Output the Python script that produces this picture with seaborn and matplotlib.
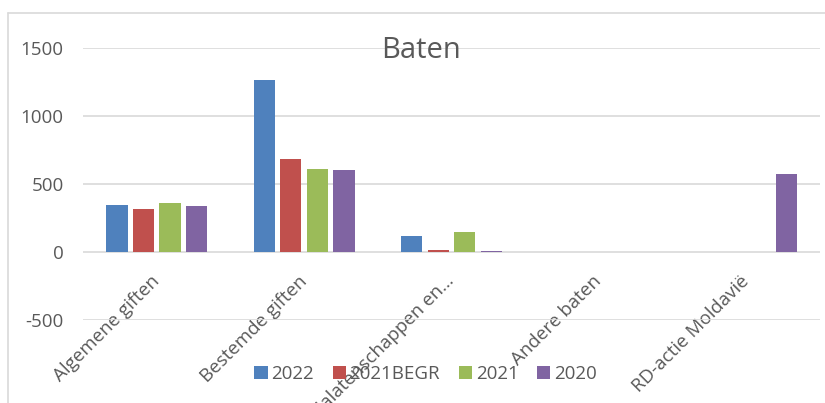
import pandas as pd
import seaborn as sns
import matplotlib.pyplot as plt
from matplotlib.lines import Line2D

categories = ['Algemene giften', 'Bestemde giften', 'Nalatenschappen en…', 'Andere baten', 'RD-actie Moldavië']
years = ['2022', '2021BEGR', '2021', '2020']
v2022 = [345, 1265, 118, 0, 0]
v2021begr = [316, 684, 18, 0, 0]
v2021 = [360, 610, 147, 0, 0]
v2020 = [338, 603, 10, 0, 574]
colors = ['#4F81BD', '#C0504D', '#9BBB59', '#8064A2']

rows = []
for year, vals in zip(years, [v2022, v2021begr, v2021, v2020]):
    for cat, v in zip(categories, vals):
        rows.append({'categorie': cat, 'jaar': year, 'waarde': v})
df = pd.DataFrame(rows)

sns.set_style('white')
plt.rcParams['font.family'] = ['Open Sans', 'DejaVu Sans']
plt.rcParams['axes.unicode_minus'] = False

fig = plt.figure(figsize=(8.25, 4.03), dpi=100)
ax = fig.add_axes([0.1006, 0.206, 0.8934, 0.675])

sns.barplot(data=df, x='categorie', y='waarde', hue='jaar', hue_order=years,
            palette=colors, width=0.72, gap=0.2, ax=ax, saturation=1,
            errorbar=None, linewidth=0)

ax.set_ylim(-500, 1500)
ax.set_yticks([-500, 0, 500, 1000, 1500])
ax.yaxis.grid(True, color='#D9D9D9', linewidth=1.2)
ax.set_axisbelow(True)
# category axis crosses at 0, like in Excel
ax.spines['bottom'].set_position(('data', 0))
for s in ax.spines.values():
    s.set_visible(False)
ax.set_xlabel('')
ax.set_ylabel('')
ax.tick_params(axis='both', length=0, colors='#595959', labelsize=13.5)
ax.tick_params(axis='y', pad=14)
ax.tick_params(axis='x', pad=19, labelsize=13.5)
plt.setp(ax.get_xticklabels(), rotation=45, ha='right', va='center',
         rotation_mode='anchor')

fig.text(421 / 825, 1 - 51 / 403, 'Baten', fontsize=21, color='#595959',
         ha='center', va='center')

ax.legend(loc='center', bbox_to_anchor=(0.465, -0.2), ncol=4, frameon=False,
          fontsize=13.5, handlelength=0.7, handleheight=0.7, handletextpad=0.2,
          columnspacing=1.0, labelcolor='#595959')

# outer chart border
fig.add_artist(Line2D([8 / 825, 1], [1 - 13 / 403] * 2, color='#D9D9D9', lw=1.2))
fig.add_artist(Line2D([8 / 825] * 2, [0, 1 - 13 / 403], color='#D9D9D9', lw=1.2))

fig.savefig('out.png', dpi=100)
